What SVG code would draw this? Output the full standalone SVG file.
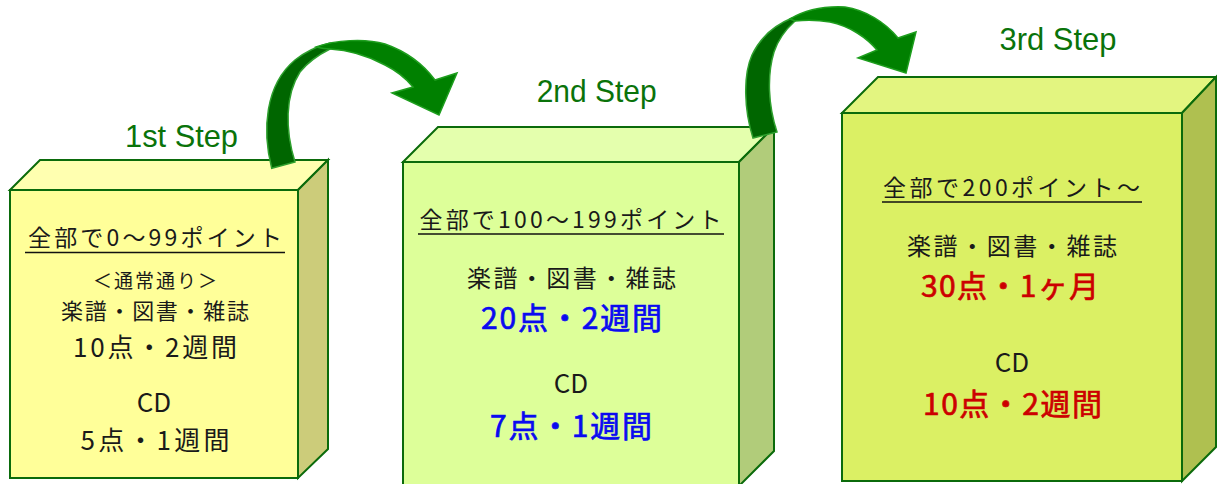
<svg xmlns="http://www.w3.org/2000/svg" width="1217" height="484" viewBox="0 0 1217 484">
<style>
.edge{stroke:#0B6B0B;stroke-width:2;stroke-linejoin:miter}
.jp{font-family:"Noto Sans CJK JP","Noto Sans",sans-serif;fill:#1a1a1a;text-anchor:middle}
.step{font-family:"Liberation Sans","Noto Sans",sans-serif;fill:#0A730A;font-size:32px;text-anchor:middle}
.t1{font-size:23px}
.t2{font-size:19px}
.t3{font-size:22px}
.t4{font-size:26px}
.big{font-size:30px;stroke-width:0.7px}
.blue{fill:#0A0AF0;stroke:#0A0AF0}
.red{fill:#CC0000;stroke:#CC0000}
.ul{stroke:#111;stroke-width:1.6}
.dark{fill:#006600;stroke:#2EA02E;stroke-width:1.5}
.bright{fill:#008000;stroke:#1E9E1E;stroke-width:1.5;stroke-linejoin:miter}
</style>
<rect width="1217" height="484" fill="#FFFFFF"/>

<g id="box1">
  <polygon class="edge" points="10,190 40,160 328,160 298,190" fill="#FFFFB0"/>
  <polygon class="edge" points="298,190 328,160 328,449 298,478" fill="#CCCC7A"/>
  <rect class="edge" x="10" y="190" width="288" height="288" fill="#FFFF99"/>
  <text class="jp t1" x="155" y="246" textLength="254">全部で0～99ポイント</text>
  <line class="ul" x1="25" y1="252.5" x2="285" y2="252.5"/>
  <text class="jp t2" x="155" y="288" textLength="124">＜通常通り＞</text>
  <text class="jp t3" x="155" y="319" textLength="188">楽譜・図書・雑誌</text>
  <text class="jp t4" x="155" y="357" textLength="164">10点・2週間</text>
  <text class="jp t4" x="154" y="412">CD</text>
  <text class="jp t4" x="155" y="450" textLength="149">5点・1週間</text>
</g>

<g id="box2">
  <polygon class="edge" points="403,162 438,127 774,127 739,162" fill="#E4FFAD"/>
  <polygon class="edge" points="739,162 774,127 774,451 739,486" fill="#B1CC7A"/>
  <rect class="edge" x="403" y="162" width="336" height="330" fill="#DDFF99"/>
  <text class="jp t1" x="570.5" y="228" textLength="302">全部で100～199ポイント</text>
  <line class="ul" x1="418" y1="234" x2="724" y2="234"/>
  <text class="jp" style="font-size:24px" x="571.5" y="287" textLength="209">楽譜・図書・雑誌</text>
  <text class="jp big blue" x="571.5" y="329" textLength="181">20点・2週間</text>
  <text class="jp t4" x="571" y="393">CD</text>
  <text class="jp big blue" x="571" y="437" textLength="162">7点・1週間</text>
</g>

<g id="box3">
  <polygon class="edge" points="842,113 878,77 1216,77 1182,113" fill="#E3F580"/>
  <polygon class="edge" points="1182,113 1216,77 1216,447 1182,481" fill="#AFC050"/>
  <rect class="edge" x="842" y="113" width="340" height="368" fill="#DBF064"/>
  <text class="jp t1" x="1011.5" y="196" textLength="257">全部で200ポイント～</text>
  <line class="ul" x1="882" y1="202" x2="1142" y2="202"/>
  <text class="jp" style="font-size:24px" x="1012" y="255" textLength="210">楽譜・図書・雑誌</text>
  <text class="jp big red" x="1010" y="297" textLength="178">30点・1ヶ月</text>
  <text class="jp t4" x="1012" y="372">CD</text>
  <text class="jp big red" x="1012.5" y="415" textLength="179">10点・2週間</text>
</g>

<g id="labels">
  <text class="step" x="181.5" y="147" textLength="113" lengthAdjust="spacingAndGlyphs">1st Step</text>
  <text class="step" x="596.7" y="102" textLength="120" lengthAdjust="spacingAndGlyphs">2nd Step</text>
  <text class="step" x="1058" y="50" textLength="117" lengthAdjust="spacingAndGlyphs">3rd Step</text>
</g>

<g id="connectors">
  <g id="arrow1">
    <path class="dark" d="M271.7,168.3 C262,130 265,85 295,60 C305,52 318,46 330,43 L330,49 C318,55 308,62 300,72 C285,95 285,130 295,162 Z"/>
    <path class="bright" d="M316,47 C335,40 365,38 385,44 C405,51 423,64 435,80 L457,73 L439,115 L392,93 L413,87 C405,77 395,70 385,65 C370,57 350,50 330,49 C325,49 320,48 316,47 Z"/>
  </g>
  <g id="arrow2">
    <path class="dark" d="M753,138 C744,110 743,75 752,55 C760,38 775,25 792,18 L795,21 C785,30 778,40 774,52 C767,75 768,105 777,132 Z"/>
    <path class="bright" d="M790,19 C805,10 825,6 845,7 C865,10 885,22 898,38 L916,32 L906,73 L858,58 L877,50 C867,38 850,26 830,22 C818,20 805,20 795,21 Z"/>
  </g>
</g>
</svg>
